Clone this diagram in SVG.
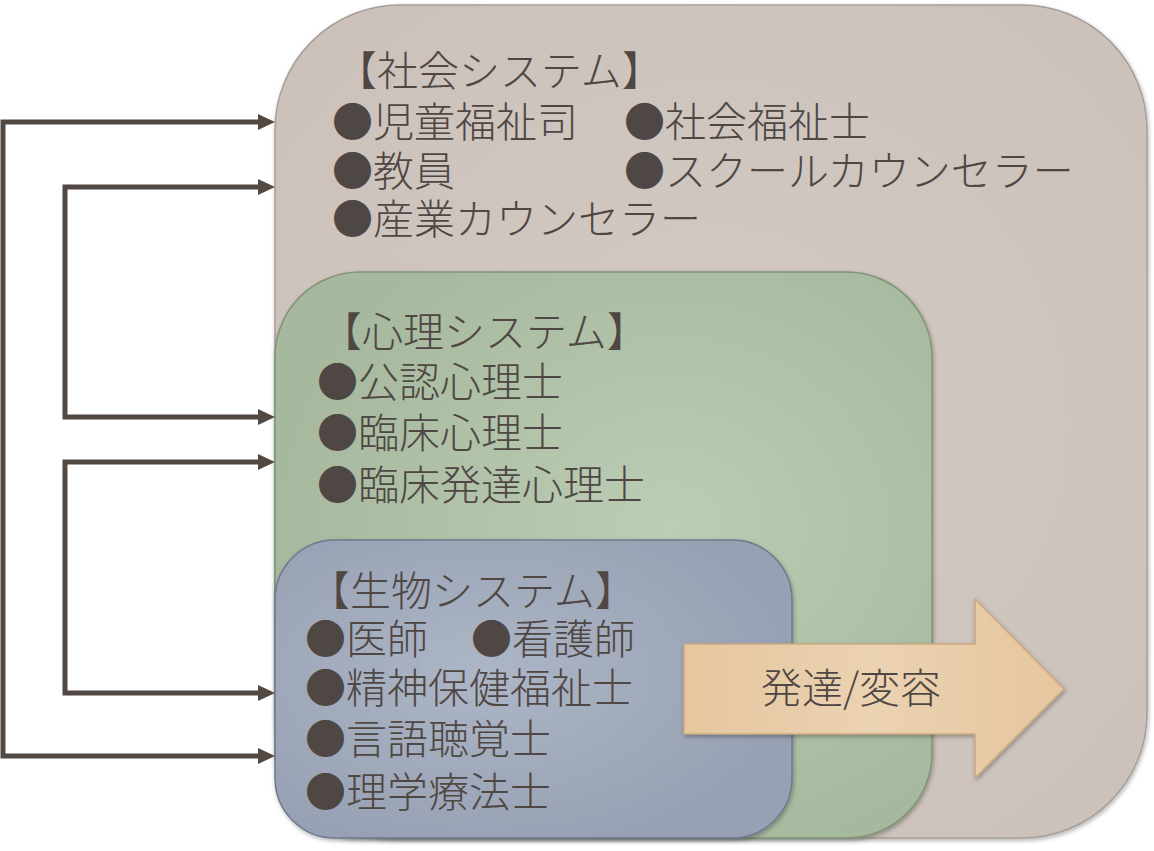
<svg xmlns="http://www.w3.org/2000/svg" width="1154" height="851" viewBox="0 0 1154 851">
<style>
.t{font-family:"Noto Sans CJK JP","Noto Sans",sans-serif;font-size:41px;font-weight:300;fill:#4f4743}
.c{fill:none;stroke:#524943;stroke-width:5}
</style>
<defs>
<radialGradient id="gs" cx="0.5" cy="0.5" r="0.7"><stop offset="0" stop-color="#d3cac4"/><stop offset="1" stop-color="#cbc1ba"/></radialGradient>
<radialGradient id="gp" cx="0.6" cy="0.45" r="0.6"><stop offset="0" stop-color="#bccdb5"/><stop offset="1" stop-color="#a6b89d"/></radialGradient>
<radialGradient id="gb" cx="0.4" cy="0.45" r="0.6"><stop offset="0" stop-color="#adb6c6"/><stop offset="1" stop-color="#98a1b3"/></radialGradient>
<linearGradient id="ga" x1="0" y1="0" x2="1" y2="0"><stop offset="0" stop-color="#e5c69e"/><stop offset="0.5" stop-color="#ebd2b2"/><stop offset="1" stop-color="#e5c69e"/></linearGradient>
<filter id="sh" x="-5%" y="-5%" width="110%" height="110%"><feDropShadow dx="1" dy="2" stdDeviation="2" flood-color="#000" flood-opacity="0.3"/></filter>
</defs>
<g id="social">
<rect x="275" y="5" width="872" height="833" rx="125" ry="125" fill="url(#gs)" stroke="#a89e97" stroke-width="1.5" filter="url(#sh)"/>
<text class="t" x="336" y="86">【社会システム】</text>
<text class="t" x="332" y="137">●児童福祉司</text>
<text class="t" x="624" y="137">●社会福祉士</text>
<text class="t" x="332" y="186">●教員</text>
<text class="t" x="624" y="186">●スクールカウンセラー</text>
<text class="t" x="332" y="234">●産業カウンセラー</text>
</g>
<g id="psych">
<rect x="275" y="272" width="657" height="566" rx="85" ry="85" fill="url(#gp)" stroke="#7f9477" stroke-width="1.5" filter="url(#sh)"/>
<text class="t" x="321" y="347">【心理システム】</text>
<text class="t" x="317" y="397">●公認心理士</text>
<text class="t" x="317" y="448">●臨床心理士</text>
<text class="t" x="317" y="500">●臨床発達心理士</text>
</g>
<g id="bio">
<rect x="275" y="540" width="517" height="298" rx="60" ry="60" fill="url(#gb)" stroke="#6f7890" stroke-width="1.5" filter="url(#sh)"/>
<text class="t" x="309" y="606">【生物システム】</text>
<text class="t" x="305" y="654">●医師</text>
<text class="t" x="471" y="654">●看護師</text>
<text class="t" x="305" y="703">●精神保健福祉士</text>
<text class="t" x="305" y="754">●言語聴覚士</text>
<text class="t" x="305" y="807">●理学療法士</text>
</g>
<g id="develop">
<path d="M684,644H975V599L1064,689L975,778V734H684Z" fill="url(#ga)" stroke="#c9a97f" stroke-width="1.5" filter="url(#sh)"/>
<text class="t" x="851" y="703" text-anchor="middle" font-size="39">発達/変容</text>
</g>
<g id="connectors">
<path class="c" d="M260,122H3V756H260"/>
<path class="c" d="M260,187H65V417H260"/>
<path class="c" d="M260,462H65V693H260"/>
<g fill="#524943">
<path d="M258,114L275,122L258,130Z"/>
<path d="M258,748L275,756L258,764Z"/>
<path d="M258,179L275,187L258,195Z"/>
<path d="M258,409L275,417L258,425Z"/>
<path d="M258,454L275,462L258,470Z"/>
<path d="M258,685L275,693L258,701Z"/>
</g>
</g>
</svg>
